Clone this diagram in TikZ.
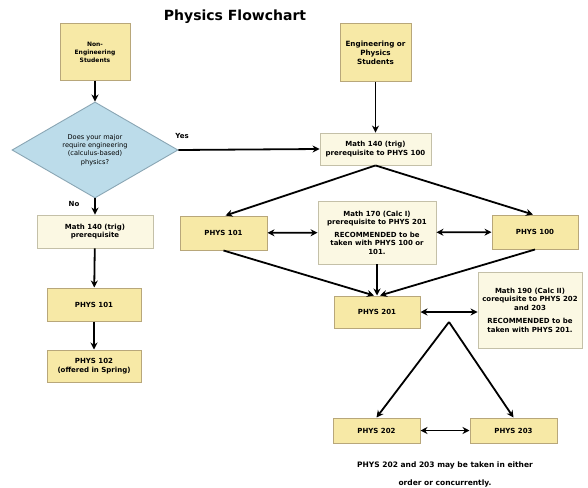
\documentclass[tikz,border=0pt]{standalone}
\usepackage{fontspec}
\setmainfont{DejaVu Sans}
\usetikzlibrary{shapes.geometric,arrows.meta}
\definecolor{boxyellow}{HTML}{F7E9A6}
\definecolor{boxedge}{HTML}{B8A77A}
\definecolor{paleyellow}{HTML}{FBF8E3}
\definecolor{paleedge}{HTML}{C4C0A8}
\definecolor{diafill}{HTML}{BCDCEA}
\definecolor{diaedge}{HTML}{8AA6B4}
\tikzset{
  course/.style={draw=boxedge, line width=1pt, fill=boxyellow, inner sep=1pt, align=center,
    font=\fontsize{7}{8.5}\selectfont\bfseries},
  student/.style={course, font=\fontsize{6}{8}\selectfont\bfseries},
  info/.style={draw=paleedge, line width=0.9pt, fill=paleyellow, inner sep=1pt, align=center,
    font=\fontsize{7}{8.5}\selectfont\bfseries},
  conn/.style={line width=1.8pt, -{Stealth[length=7pt,width=7pt]}},
  biconn/.style={line width=1.8pt, {Stealth[length=7pt,width=7pt]}-{Stealth[length=7pt,width=7pt]}},
  lbl/.style={font=\fontsize{7}{8.5}\selectfont\bfseries}
}
\begin{document}
\begin{tikzpicture}[x=1pt,y=-1pt]
\useasboundingbox (0,0) rectangle (588,487);
\node[font=\fontsize{14}{16}\selectfont\bfseries] (title) at (235,17) {Physics Flowchart};
\node[student, minimum width=70pt, minimum height=56pt] (noneng) at (95,52) {Non-\\Engineering\\Students};
\node[student, font=\fontsize{7.2}{9}\selectfont\bfseries, minimum width=71pt, minimum height=57pt] (eng) at (375.5,52.5) {Engineering or\\Physics\\Students};
\node[diamond, draw=diaedge, line width=0.9pt, fill=diafill, minimum width=166pt, minimum height=89pt, inner sep=0pt, align=center,
  font=\fontsize{6.6}{8.2}\selectfont] (q) at (95,150) {Does your major\\require engineering\\(calculus-based)\\physics?};
\node[info, minimum width=111pt, minimum height=32pt] (m140r) at (375.5,149) {Math 140 (trig)\\prerequisite to PHYS 100};
\node[info, minimum width=116pt, minimum height=33pt] (m140l) at (95,231.5) {Math 140 (trig)\\prerequisite};
\node[course, minimum width=94pt, minimum height=33pt] (p101l) at (94,304.5) {PHYS 101};
\node[course, minimum width=94pt, minimum height=32pt] (p102) at (94,366) {PHYS 102\\(offered in Spring)};
\node[course, minimum width=87pt, minimum height=34pt] (p101r) at (223.5,233) {PHYS 101};
\node[info, minimum width=118pt, minimum height=63pt] (m170) at (377,232.5) {Math 170 (Calc I)\\prerequisite to PHYS 201\\[4pt]RECOMMENDED to be\\taken with PHYS 100 or\\101.};
\node[course, minimum width=86pt, minimum height=34pt] (p100) at (535,232) {PHYS 100};
\node[course, minimum width=86pt, minimum height=32pt] (p201) at (377,312) {PHYS 201};
\node[info, minimum width=104pt, minimum height=76pt] (m190) at (530,310) {Math 190 (Calc II)\\corequisite to PHYS 202\\and 203\\[5pt]RECOMMENDED to be\\taken with PHYS 201.};
\node[course, minimum width=87pt, minimum height=25pt] (p202) at (376.5,430.5) {PHYS 202};
\node[course, minimum width=87pt, minimum height=25pt] (p203) at (513.5,430.5) {PHYS 203};
\node[lbl, font=\fontsize{7.5}{9}\selectfont\bfseries] (note1) at (445,465) {PHYS 202 and 203 may be taken in either};
\node[lbl, font=\fontsize{7.5}{9}\selectfont\bfseries] (note2) at (445,483) {order or concurrently.};
\node[lbl] (yes) at (182,136) {Yes};
\node[lbl] (no) at (74,204) {No};
\coordinate (apex) at (449,322);

\draw[conn] (noneng) -- (q.north);
\draw[conn] (q.south) -- (m140l.north);
\draw[conn] (m140l) -- (p101l);
\draw[conn] (p101l) -- (p102);
\draw[conn] (eng) -- (m140r);
\draw[conn] (q.east) -- (m140r.west);
\draw[conn] (m140r.south) -- ([xshift=2pt]p101r.north);
\draw[conn] (m140r.south) -- ([xshift=-2pt]p100.north);
\draw[biconn] (p101r) -- (m170);
\draw[biconn] (m170) -- (p100);
\draw[conn] (m170) -- (p201);
\draw[conn] (p101r.south) -- ([xshift=-3pt]p201.north);
\draw[conn] (p100.south) -- ([xshift=3pt]p201.north);
\draw[biconn] (p201.east) -- (m190.west |- p201.east);
\draw[conn] (apex) -- (p202.north);
\draw[conn] (apex) -- (p203.north);
\draw[biconn] (p202) -- (p203);
\end{tikzpicture}
\end{document}
